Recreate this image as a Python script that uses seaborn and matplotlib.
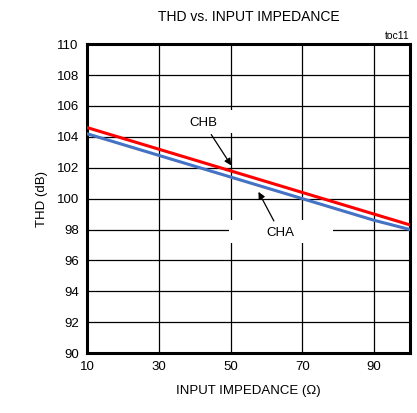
import pandas as pd
import matplotlib
matplotlib.use("Agg")
import matplotlib.pyplot as plt
from matplotlib.patches import Rectangle
import seaborn as sns

# values
impedance = [10, 20, 30, 40, 50, 60, 70, 80, 90, 100]
thd_chb = [104.6, 103.9, 103.2, 102.5, 101.8, 101.1, 100.4, 99.7, 99.0, 98.3]
thd_cha = [104.2, 103.5, 102.8, 102.1, 101.4, 100.7, 100.0, 99.3, 98.6, 98.0]
x_ticks = [10, 30, 50, 70, 90]
y_ticks = [90, 92, 94, 96, 98, 100, 102, 104, 106, 108, 110]

df = pd.DataFrame({"impedance": impedance * 2,
                   "thd": thd_chb + thd_cha,
                   "channel": ["CHB"] * len(impedance) + ["CHA"] * len(impedance)})

sns.set_style("white")
plt.rcParams['font.family'] = ['Liberation Sans', 'DejaVu Sans']
plt.rcParams['text.color'] = 'black'
plt.rcParams['axes.labelcolor'] = 'black'
plt.rcParams['xtick.color'] = 'black'
plt.rcParams['ytick.color'] = 'black'

fig = plt.figure(figsize=(4.17, 4.13), dpi=100)
ax = fig.add_axes([0.209, 0.145, 0.774, 0.748])

sns.lineplot(data=df, x="impedance", y="thd", hue="channel",
             palette={"CHB": "#ff0000", "CHA": "#4472c4"}, linewidth=2.2,
             legend=False, ax=ax, zorder=3)

ax.set_xlim(10, 100)
ax.set_ylim(90, 110)
ax.set_xticks(x_ticks)
ax.set_yticks(y_ticks)
ax.tick_params(labelsize=9.5, length=0, pad=6)
ax.grid(True, color="black", linewidth=0.9)
for s in ax.spines.values():
    s.set_linewidth(2.2)
    s.set_color("black")

ax.set_xlabel("INPUT IMPEDANCE (\u03a9)", fontsize=9.5, labelpad=8)
ax.set_ylabel("THD (dB)", fontsize=9.5, labelpad=6)
ax.set_title("THD vs. INPUT IMPEDANCE", fontsize=10, pad=17)
ax.text(1.0, 1.01, "toc11", transform=ax.transAxes, ha="right", va="bottom", fontsize=7.5)

# white boxes behind the curve labels break the grid
ax.add_patch(Rectangle((35, 104.25), 15.6, 1.5, fc="white", ec="none", zorder=2.5))
ax.add_patch(Rectangle((49.6, 97.1), 28.9, 1.5, fc="white", ec="none", zorder=2.5))

ax.annotate("CHB", xy=(50.6, 102.0), xytext=(42.5, 104.9), fontsize=9.5,
            ha="center", va="center",
            arrowprops=dict(arrowstyle="-|>", color="black", lw=0.9, mutation_scale=10),
            zorder=4)
ax.annotate("CHA", xy=(57.4, 100.6), xytext=(63.8, 97.8), fontsize=9.5,
            ha="center", va="center",
            arrowprops=dict(arrowstyle="-|>", color="black", lw=0.9, mutation_scale=10),
            zorder=4)

fig.savefig("out.png", dpi=100)
